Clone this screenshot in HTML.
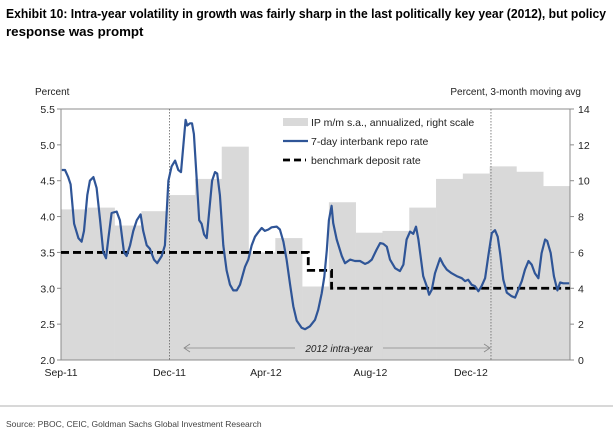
<!DOCTYPE html>
<html><head><meta charset="utf-8"><style>
body{margin:0;background:#fff;width:613px;height:439px;overflow:hidden;font-family:"Liberation Sans",Arial,sans-serif}
svg{display:block}
</style></head><body>
<svg width="613" height="439" viewBox="0 0 613 439">
<text x="6" y="18" font-family="'Liberation Sans Narrow','Liberation Sans',sans-serif" font-weight="bold" font-size="13.3" fill="#000" textLength="600" lengthAdjust="spacingAndGlyphs">Exhibit 10: Intra-year volatility in growth was fairly sharp in the last politically key year (2012), but policy</text>
<text x="6" y="36" font-family="'Liberation Sans Narrow','Liberation Sans',sans-serif" font-weight="bold" font-size="13.3" fill="#000">response was prompt</text>
<text x="35" y="95" font-size="10" fill="#222">Percent</text>
<text x="581" y="95" font-size="10" fill="#222" text-anchor="end">Percent, 3-month moving avg</text>
<g id="bars"></g>
<g id="ticks"></g>
<g id="annot"></g>
<g id="lines"></g>
<g id="legend"></g>
<line x1="0" y1="406" x2="613" y2="406" stroke="#999" stroke-width="0.8"/>
<text x="6" y="427" font-size="8.5" fill="#444">Source: PBOC, CEIC, Goldman Sachs Global Investment Research</text>
</svg>
<script>
const barValues=[8.4,8.5,7.5,8.3,9.2,10.1,11.9,6.0,6.8,4.1,8.8,7.1,7.2,8.5,10.1,10.4,10.8,10.5,9.7];
const repoT=[0.03,0.15,0.27,0.36,0.49,0.65,0.77,0.86,0.98,1.08,1.21,1.33,1.46,1.58,1.68,1.77,1.89,2.08,2.20,2.35,2.45,2.58,2.70,2.83,2.97,3.07,3.20,3.32,3.47,3.59,3.76,3.88,4.01,4.13,4.26,4.38,4.48,4.57,4.65,4.71,4.82,4.89,4.96,5.07,5.16,5.25,5.34,5.44,5.54,5.64,5.75,5.83,5.93,6.06,6.18,6.31,6.43,6.56,6.68,6.87,6.99,7.12,7.24,7.36,7.49,7.61,7.74,7.86,8.05,8.17,8.30,8.42,8.55,8.67,8.80,8.98,9.11,9.29,9.48,9.60,9.73,9.83,9.92,10.00,10.10,10.16,10.29,10.48,10.60,10.79,10.97,11.16,11.35,11.47,11.60,11.78,11.91,12.03,12.16,12.28,12.47,12.65,12.78,12.90,13.03,13.15,13.25,13.34,13.52,13.65,13.74,13.84,13.96,14.15,14.27,14.40,14.58,14.77,14.96,15.08,15.20,15.33,15.45,15.58,15.70,15.83,15.95,16.08,16.20,16.30,16.39,16.51,16.64,16.82,16.95,17.07,17.20,17.32,17.45,17.57,17.69,17.82,17.94,18.07,18.15,18.28,18.40,18.53,18.63,18.75,18.97];
const repoV=[4.65,4.65,4.55,4.45,3.9,3.7,3.65,3.8,4.3,4.5,4.55,4.4,3.95,3.5,3.42,3.7,4.05,4.07,3.95,3.5,3.45,3.6,3.8,3.95,4.03,3.8,3.6,3.55,3.4,3.35,3.45,3.6,4.5,4.7,4.78,4.65,4.62,5.0,5.35,5.27,5.3,5.3,5.15,4.5,3.95,3.9,3.75,3.7,4.1,4.5,4.62,4.6,4.3,3.6,3.25,3.05,2.97,2.97,3.05,3.3,3.4,3.6,3.72,3.78,3.84,3.8,3.82,3.85,3.86,3.82,3.65,3.4,3.05,2.75,2.55,2.45,2.43,2.47,2.56,2.70,2.93,3.16,3.53,3.95,4.15,3.91,3.68,3.45,3.35,3.40,3.38,3.38,3.34,3.36,3.40,3.54,3.63,3.62,3.58,3.40,3.28,3.24,3.33,3.68,3.79,3.76,3.86,3.68,3.17,3.03,2.91,2.98,3.21,3.42,3.33,3.26,3.21,3.17,3.14,3.10,3.12,3.05,3.03,2.96,3.03,3.14,3.45,3.77,3.81,3.72,3.49,3.12,2.94,2.89,2.87,2.98,3.10,3.26,3.38,3.33,3.21,3.14,3.49,3.68,3.66,3.49,3.17,2.97,3.08,3.07,3.07];
const depositT=[0,9.23,10.1];
const depositV=[3.5,3.25,3.0];
const leftTicks=[2.0,2.5,3.0,3.5,4.0,4.5,5.0,5.5];
const rightTicks=[0,2,4,6,8,10,12,14];
const xTickLabels=["Sep-11","Dec-11","Apr-12","Aug-12","Dec-12"];
const xTickT=[0,4.05,7.65,11.55,15.3];
const vlineT=[4.05,16.05];

const X0=61,X1=570,Y0=360,Y1=109,NT=19;
const x=t=>X0+(X1-X0)*t/NT;
const yL=v=>Y0-(v-2)/(3.5)*(Y0-Y1);
const yR=v=>Y0-v/14*(Y0-Y1);
const NS="http://www.w3.org/2000/svg";
function mk(tag,attrs,parent,text){const e=document.createElementNS(NS,tag);for(const k in attrs)e.setAttribute(k,attrs[k]);if(text!==undefined)e.textContent=text;parent.appendChild(e);return e;}
const gB=document.getElementById('bars'),gT=document.getElementById('ticks'),gA=document.getElementById('annot'),gL=document.getElementById('lines'),gG=document.getElementById('legend');

barValues.forEach((v,i)=>{
 const r=mk('rect',{x:x(i),y:yR(v),width:x(i+1)-x(i)+0.3,height:Y0-yR(v),fill:'#d9d9d9'},gB);
 
 
});
const frame=mk('rect',{x:X0,y:Y1,width:X1-X0,height:Y0-Y1,fill:'none',stroke:'#8c8c8c','stroke-width':1},gT);


leftTicks.forEach(v=>{
 mk('line',{x1:X0-4,x2:X0,y1:yL(v),y2:yL(v),stroke:'#8c8c8c'},gT);
 const t=mk('text',{x:X0-6,y:yL(v)+4,'font-size':10.5,'text-anchor':'end',fill:'#222'},gT,v.toFixed(1));
 
 
});
rightTicks.forEach(v=>{
 mk('line',{x1:X1,x2:X1+4,y1:yR(v),y2:yR(v),stroke:'#8c8c8c'},gT);
 const t=mk('text',{x:X1+8,y:yR(v)+4,'font-size':10.5,fill:'#222'},gT,String(v));
 
 
});
xTickLabels.forEach((l,i)=>{
 const t=mk('text',{x:Math.max(x(xTickT[i]),X0),y:376,'font-size':10.5,'text-anchor':'middle',fill:'#222'},gT,l);
 
 
});
vlineT.forEach(t=>{
 const l=mk('line',{x1:x(t),x2:x(t),y1:Y1,y2:Y0,stroke:'#666','stroke-dasharray':'1.5,1.5','stroke-width':0.8},gA);
 
 
});
mk('line',{x1:184,x2:295,y1:348,y2:348,stroke:'#888','stroke-width':0.8},gA);
mk('path',{d:'M190,344 L184,348 L190,352',fill:'none',stroke:'#888','stroke-width':0.8},gA);
mk('line',{x1:383,x2:490,y1:348,y2:348,stroke:'#888','stroke-width':0.8},gA);
mk('path',{d:'M484,344 L490,348 L484,352',fill:'none',stroke:'#888','stroke-width':0.8},gA);
const it=mk('text',{x:339,y:352,'font-size':10,'font-style':'italic','text-anchor':'middle',fill:'#222'},gA,'2012 intra-year');



let dd='';
depositT.forEach((t,i)=>{const te=i+1<depositT.length?depositT[i+1]:NT;const yy=yL(depositV[i]);dd+=(i?'L':'M')+x(t)+','+yy+' L'+x(te)+','+yy+' ';});
const dep=mk('path',{d:dd,fill:'none',stroke:'#000','stroke-width':2.8,'stroke-dasharray':'8,4'},gL);


const rd=repoT.map((t,i)=>(i?'L':'M')+x(t).toFixed(1)+','+yL(repoV[i]).toFixed(1)).join(' ');
const rep=mk('path',{d:rd,fill:'none',stroke:'#2f5597','stroke-width':2.2,'stroke-linejoin':'round'},gL);



const s1=mk('rect',{x:283,y:118,width:25,height:8,fill:'#d9d9d9'},gG);


const s2=mk('line',{x1:283,x2:308,y1:141,y2:141,stroke:'#2f5597','stroke-width':2.2},gG);


const s3=mk('line',{x1:283,x2:306,y1:160,y2:160,stroke:'#000','stroke-width':2.8,'stroke-dasharray':'7,4'},gG);


[['IP m/m s.a., annualized, right scale',126,'legend-entry-ip'],['7-day interbank repo rate',145,'legend-entry-repo'],['benchmark deposit rate',164,'legend-entry-deposit']].forEach(a=>{
 const t=mk('text',{x:311,y:a[1],'font-size':10.5,fill:'#222'},gG,a[0]);
 
 
});
</script>
</body></html>
